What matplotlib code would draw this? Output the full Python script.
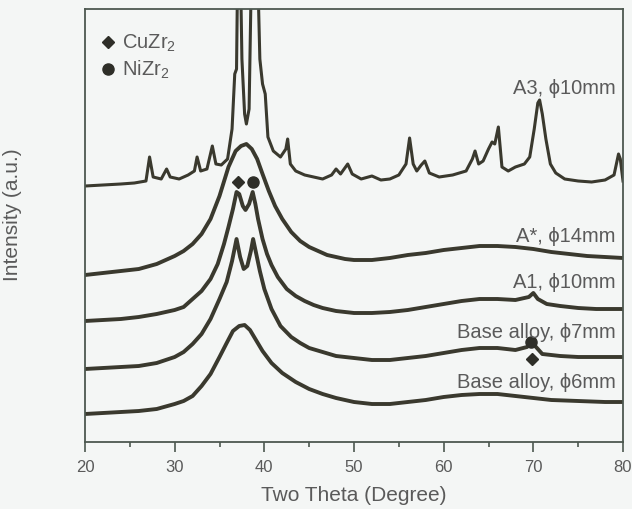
import matplotlib
matplotlib.use("Agg")
import matplotlib.pyplot as plt
from matplotlib.ticker import MultipleLocator

plt.rcParams['font.family'] = ['Liberation Sans', 'DejaVu Sans']
plt.rcParams['mathtext.fontset'] = 'custom'
plt.rcParams['mathtext.rm'] = 'Liberation Sans'

# ---- data (2theta in degrees, intensity in arbitrary units, curves already offset) ----
a3_theta = [20.0, 22.0, 24.0, 25.5, 26.8, 27.2, 27.6, 28.5, 29.1, 29.5, 30.5, 31.5, 32.2, 32.5,
            32.9, 33.6, 34.2, 34.6, 35.2, 35.9, 36.4, 36.7, 36.9, 37.05, 37.3, 37.5, 37.8, 38.0,
            38.3, 38.6, 39.2, 39.5, 39.8, 40.1, 40.4, 41.0, 41.8, 42.4, 42.6, 42.9, 43.5, 44.5,
            45.5, 46.5, 47.5, 48.0, 48.5, 49.3, 49.8, 50.8, 52.0, 53.0, 54.0, 55.0, 55.8, 56.2,
            56.6, 57.0, 57.5, 57.9, 58.4, 59.5, 61.0, 62.5, 63.2, 63.5, 63.9, 64.4, 65.0, 65.4,
            65.7, 66.1, 66.5, 67.2, 68.0, 69.0, 69.6, 70.1, 70.5, 70.7, 71.0, 71.4, 71.9, 72.5,
            73.5, 75.0, 76.5, 78.0, 79.0, 79.5, 79.7, 80.0]
a3_int = [256, 257, 258, 259, 261, 285, 265, 263, 273, 265, 263, 267, 271, 285,
          271, 273, 296, 278, 277, 283, 313, 368, 373, 493, 493, 383, 328, 318,
          333, 493, 493, 383, 358, 348, 305, 291, 285, 293, 303, 278, 271, 267,
          265, 263, 267, 273, 268, 278, 268, 263, 266, 262, 263, 267, 278, 304,
          278, 271, 277, 281, 269, 265, 267, 271, 283, 291, 278, 281, 293, 300,
          298, 315, 275, 271, 275, 278, 285, 313, 339, 342, 328, 303, 278, 269,
          263, 261, 260, 262, 267, 288, 283, 261]

astar_theta = [20, 22, 24, 26, 28, 30, 31, 32, 33, 34, 35, 36, 36.8, 37.4, 38.0, 38.6, 39.2,
               39.8, 40.5, 41.2, 42.0, 43.0, 44.0, 45.0, 46.0, 47.0, 48.0, 49.0, 50.0, 52.0,
               54.0, 56.0, 58.0, 60.0, 62.0, 64.0, 66.0, 68.0, 70.0, 72.0, 74.0, 76.0, 78.0, 80.0]
astar_int = [167, 169, 171, 173, 178, 186, 191, 198, 208, 223, 246, 275, 291, 296, 298, 293, 283,
             268, 251, 236, 223, 210, 201, 195, 191, 187, 185, 183, 182, 182,
             184, 187, 189, 192, 194, 196, 196, 195, 193, 190, 188, 186, 185, 184]

a1_theta = [20, 22, 24, 26, 28, 30, 31, 32, 33, 34, 34.8, 35.5, 36.0, 36.5, 36.9, 37.2, 37.6,
            37.9, 38.3, 38.7, 39.0, 39.3, 39.8, 40.3, 40.8, 41.5, 42.5, 43.5, 44.5, 45.5, 46.5,
            48, 50, 52, 54, 56, 58, 60, 62, 64, 66, 68, 69.5, 70.0, 70.5, 71.5, 73, 75, 77, 80]
a1_int = [121, 122, 123, 125, 128, 132, 135, 143, 151, 163, 178, 198, 215, 233, 250, 248, 236,
          232, 238, 250, 238, 223, 203, 188, 177, 165, 153, 146, 141, 137, 134,
          131, 129, 129, 130, 132, 135, 138, 141, 143, 143, 142, 145, 149, 143, 138, 136, 134, 133, 133]

b7_theta = [20, 22, 24, 26, 28, 30, 31, 32, 33, 34, 35, 35.8, 36.4, 36.9, 37.3, 37.7, 38.1,
            38.5, 38.75, 39.1, 39.5, 40.0, 40.8, 41.8, 43, 44, 45, 46.5, 48, 50, 52, 54, 56,
            58, 60, 62, 64, 66, 68, 69.3, 69.8, 70.3, 71, 73, 75, 77, 80]
b7_int = [73, 74, 75, 76, 79, 85, 90, 98, 108, 123, 143, 160, 181, 203, 185, 173, 176,
          191, 203, 188, 171, 153, 133, 116, 105, 99, 94, 90, 86, 84, 82, 82, 84,
          86, 89, 92, 94, 94, 92, 95, 100, 95, 88, 86, 85, 85, 85]

b6_theta = [20, 22, 24, 26, 28, 30, 31, 32, 33, 34, 35, 35.8, 36.5, 37.2, 37.8, 38.4, 39.0,
            39.8, 40.8, 42, 43.5, 45, 46.5, 48, 50, 52, 54, 56, 58, 60, 62, 64, 66, 68, 70,
            72, 75, 78, 80]
b6_int = [28, 29, 30, 31, 33, 38, 41, 46, 56, 68, 85, 99, 111, 116, 117, 112, 103,
          91, 79, 69, 60, 53, 48, 44, 40, 38, 38, 40, 42, 45, 47, 48, 48, 46, 44,
          42, 41, 40, 40]

curve_labels = ["A3, \u03d510mm", "A*, \u03d514mm", "A1, \u03d510mm",
                "Base alloy, \u03d57mm", "Base alloy, \u03d56mm"]
label_y = [355, 206, 160, 110, 61]

phase_names = [r"CuZr$_\mathregular{2}$", r"NiZr$_\mathregular{2}$"]
phase_markers = ["D", "o"]
# peak markers: (2theta, intensity)
cu_peaks_theta = [37.1, 69.9]
cu_peaks_int = [260, 83]
ni_peaks_theta = [38.7, 69.7]
ni_peaks_int = [260, 100]

x_ticks = [20, 30, 40, 50, 60, 70, 80]

# ---- figure ----
bg = "#f4f6f5"
line_c = "#3a392e"
text_c = "#5a5a5a"
spine_c = "#4d5850"

fig = plt.figure(figsize=(6.32, 5.10), dpi=100, facecolor=bg)
ax = fig.add_axes([85/632, 1-443/510, 538/632, 433/510], facecolor=bg)

curves = [(a3_theta, a3_int, 2.2), (astar_theta, astar_int, 2.8), (a1_theta, a1_int, 2.8),
          (b7_theta, b7_int, 2.8), (b6_theta, b6_int, 2.8)]
for th, it, lw in curves:
    ax.plot(th, it, color=line_c, lw=lw, solid_joinstyle="round")

for lab, y in zip(curve_labels, label_y):
    ax.text(79.2, y, lab, ha="right", va="center", fontsize=14.5, color=text_c)

# phase markers on the patterns
ax.plot(cu_peaks_theta, cu_peaks_int, ls="none", marker="D", ms=6, color="#2e2e28")
ax.plot(ni_peaks_theta, ni_peaks_int, ls="none", marker="o", ms=8, color="#2e2e28")

# legend (drawn manually)
for i, (name, m) in enumerate(zip(phase_names, phase_markers)):
    yy = 400 - 27 * i
    ax.plot([22.6], [yy], ls="none", marker=m, ms=6 if m == "D" else 8, color="#2e2e28")
    ax.text(24.1, yy, name, ha="left", va="center", fontsize=14.5, color=text_c)

ax.set_xlim(20, 80)
ax.set_ylim(0, 433)
ax.set_xticks(x_ticks)
ax.xaxis.set_minor_locator(MultipleLocator(5))
ax.set_yticks([])
ax.tick_params(axis="x", which="major", direction="out", length=7, width=1.2,
               color=spine_c, labelsize=12, labelcolor=text_c, pad=5)
ax.tick_params(axis="x", which="minor", direction="out", length=3.5, width=1.2, color=spine_c)
for s in ax.spines.values():
    s.set_color(spine_c)
    s.set_linewidth(1.3)

ax.set_xlabel("Two Theta (Degree)", fontsize=15, color=text_c, labelpad=8)
ax.set_ylabel("Intensity (a.u.)", fontsize=15, color=text_c)
ax.yaxis.set_label_coords(-0.117, 0.527)

fig.savefig("out.png", dpi=100, facecolor=bg)
